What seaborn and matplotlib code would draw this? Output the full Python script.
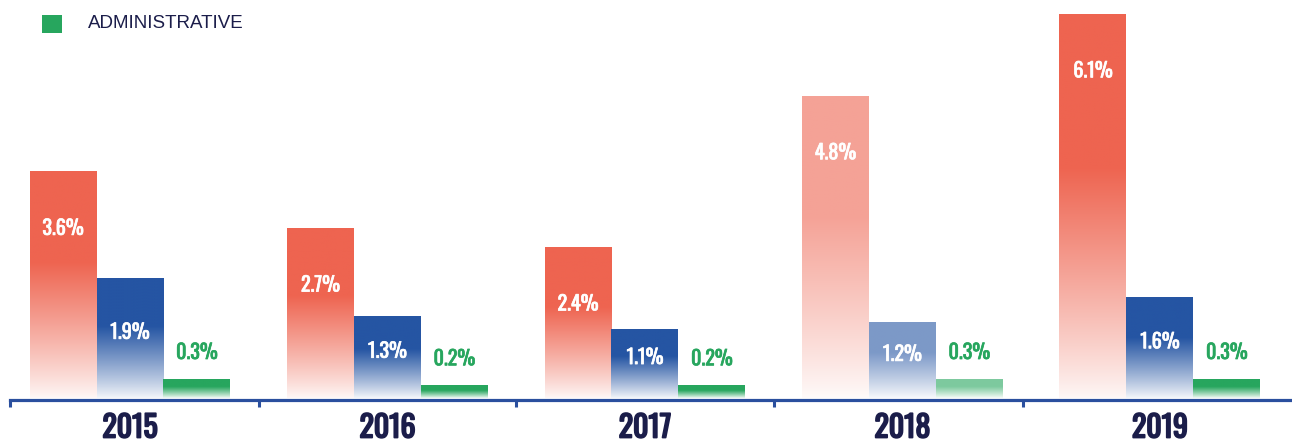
import matplotlib
matplotlib.use("Agg")
import matplotlib.pyplot as plt
import matplotlib.colors as mcolors
import matplotlib.patheffects as pe
from matplotlib import font_manager as fm
from matplotlib.patches import Rectangle
import numpy as np
import pandas as pd
import seaborn as sns

# data
years = ["2015", "2016", "2017", "2018", "2019"]
series = ["TOTAL", "OPERATIONAL", "ADMINISTRATIVE"]
total = [3.6, 2.7, 2.4, 4.8, 6.1]
operational = [1.9, 1.3, 1.1, 1.2, 1.6]
administrative = [0.3, 0.2, 0.2, 0.3, 0.3]

colors = {"TOTAL": "#ee6450", "OPERATIONAL": "#2555a3", "ADMINISTRATIVE": "#27a65e"}
faded_year = "2018"
navy = "#1b1d4a"
axis_blue = "#2a4f9e"

df = pd.DataFrame({
    "year": years * 3,
    "series": [s for s in series for _ in years],
    "value": total + operational + administrative,
})

sns.set_style("white")
available = {f.name for f in fm.fontManager.ttflist}
narrow = next((f for f in ["Oswald", "Roboto Condensed", "Fira Sans Condensed",
                           "Liberation Sans Narrow"] if f in available), "DejaVu Sans")
plt.rcParams["font.family"] = [narrow, "DejaVu Sans"]

fig = plt.figure(figsize=(12.92, 4.44), dpi=100)
W, H = 1292, 444
ax = fig.add_axes([10 / W, (H - 400) / H, (W - 10) / W, 400 / H])

sns.barplot(data=df, x="year", y="value", hue="series", order=years,
            hue_order=series, palette=colors, width=0.78, dodge=True,
            legend=False, ax=ax, saturation=1)

xlim = (-0.466, 4.513)
ylim = (-2 / 63, 398 / 63)


def gradient_rgba(color, n=200):
    rgb = np.array(mcolors.to_rgb(color))
    f = np.linspace(1, 0, n)[:, None]  # top -> bottom
    alpha = 0.05 + 0.95 * np.clip(f / 0.6, 0, 1) ** 0.9
    img = np.ones((n, 1, 4))
    img[:, :, :3] = rgb * alpha[:, :, None] + (1 - alpha[:, :, None])
    return img


def heavier(color, lw):
    return [pe.withStroke(linewidth=lw, foreground=color)]


for s, cont in zip(series, ax.containers):
    for yr, bar in zip(years, cont):
        c = colors[s]
        if yr == faded_year:
            rgb = np.array(mcolors.to_rgb(c))
            c = tuple(rgb * 0.6 + 0.4)
        bar.set_facecolor("none")
        bar.set_edgecolor("none")
        x0, w, h = bar.get_x(), bar.get_width(), bar.get_height()
        im = ax.imshow(gradient_rgba(c), extent=(x0, x0 + w, 0, h),
                       aspect="auto", zorder=2, interpolation="bilinear")
        im.set_clip_path(bar)

        xc = x0 + w / 2
        if s == "TOTAL":
            ypos, tc = h - 0.9, "white"
        elif s == "OPERATIONAL":
            ypos, tc = h / 2 + 0.1, "white"
        else:
            ypos, tc = h + 0.43, colors[s]
        ax.text(xc, ypos, f"{h:.1f}%", ha="center", va="center", color=tc,
                fontsize=14.5, zorder=3, path_effects=heavier(tc, 0.5))

ax.set_xlim(*xlim)
ax.set_ylim(*ylim)
ax.set_xlabel("")
ax.set_ylabel("")
ax.set_yticks([])
for sp in ["top", "left", "right"]:
    ax.spines[sp].set_visible(False)
ax.spines["bottom"].set_color(axis_blue)
ax.spines["bottom"].set_linewidth(2.3)
ax.spines["bottom"].set_zorder(4)

ax.set_xticks(range(len(years)))
ax.set_xticklabels(years, fontsize=21.5, color=navy)
for lab in ax.get_xticklabels():
    lab.set_path_effects(heavier(navy, 1.3))
ax.tick_params(axis="x", which="major", length=0, pad=9)
ax.set_xticks([-0.466, 0.5, 1.5, 2.5, 3.47], minor=True)
ax.tick_params(axis="x", which="minor", bottom=True, direction="out",
               length=5, width=2.2, color=axis_blue)
ax.patch.set_alpha(0)

# legend (only the last entry is visible in the crop)
fig.patches.append(Rectangle((42 / W, (H - 33) / H), 20 / W, 18 / H,
                             transform=fig.transFigure,
                             facecolor=colors["ADMINISTRATIVE"], edgecolor="none"))
fig.text(88 / W, (H - 24) / H, "ADMINISTRATIVE", fontsize=13.5, color=navy,
         va="center", ha="left", family=["Liberation Sans", "DejaVu Sans"])

fig.savefig("out.png", dpi=100)
